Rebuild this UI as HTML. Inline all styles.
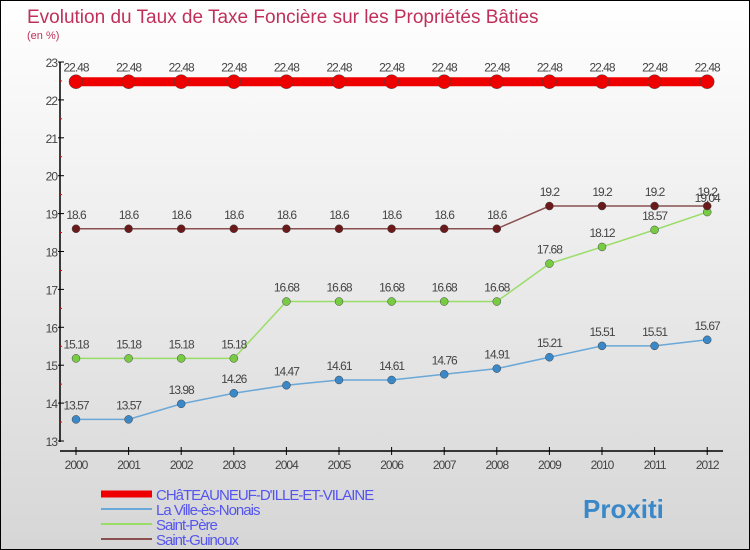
<!DOCTYPE html>
<html><head><meta charset="utf-8"><style>
body{margin:0}
#c{width:748px;height:548px;border:1px solid #000;background:linear-gradient(#fff,#d6d6d6);position:relative;font-family:"Liberation Sans",sans-serif;overflow:hidden}
</style></head><body>
<div id="c">
<svg id="s" width="748" height="548" xmlns="http://www.w3.org/2000/svg">
<text x="26" y="22" font-size="19" fill="#c0305a">Evolution du Taux de Taxe Foncière sur les Propriétés Bâties</text>
<text x="26" y="38" font-size="11" fill="#c0305a">(en %)</text>
<g id="g"></g>
</svg></div>
<script>
const years=[2000,2001,2002,2003,2004,2005,2006,2007,2008,2009,2010,2011,2012];
const chateauneuf=[22.48,22.48,22.48,22.48,22.48,22.48,22.48,22.48,22.48,22.48,22.48,22.48,22.48];
const villeNonais=[13.57,13.57,13.98,14.26,14.47,14.61,14.61,14.76,14.91,15.21,15.51,15.51,15.67];
const saintPere=[15.18,15.18,15.18,15.18,16.68,16.68,16.68,16.68,16.68,17.68,18.12,18.57,19.04];
const saintGuinoux=[18.6,18.6,18.6,18.6,18.6,18.6,18.6,18.6,18.6,19.2,19.2,19.2,19.2];
const yTicks=[13,14,15,16,17,18,19,20,21,22,23];
const NS="http://www.w3.org/2000/svg";
const g=document.getElementById('g');
const X=i=>75+i*52.6;
const Y=v=>440-(v-13)*37.9;
function el(t,a,txt){const e=document.createElementNS(NS,t);for(const k in a)e.setAttribute(k,a[k]);if(txt!==undefined)e.textContent=txt;g.appendChild(e);return e;}
let e=el('line',{x1:59,y1:61,x2:59,y2:441,stroke:'#000','stroke-width':1.5});


e=el('line',{x1:59,y1:450,x2:722,y2:450,stroke:'#000','stroke-width':1.5});


yTicks.forEach(t=>{
 el('line',{x1:57,y1:Y(t),x2:63,y2:Y(t),stroke:'#000'});
 if(t<23) el('line',{x1:58,y1:Y(t+0.5),x2:61,y2:Y(t+0.5),stroke:'#d00'});
 e=el('text',{x:56,y:Y(t)+5,'font-size':12,fill:'#444','text-anchor':'end','letter-spacing':'-1'},t);
 
 
});
years.forEach((y,i)=>{
 el('line',{x1:X(i),y1:446,x2:X(i),y2:454,stroke:'#000'});
 e=el('text',{x:X(i),y:468,'font-size':12,fill:'#444','text-anchor':'middle','letter-spacing':'-1'},y);
 
 
});
const series=[
 {d:villeNonais,c:'#6aa8d8',f:'#3a88c8',w:1.5,r:4,n:'ville-nonais'},
 {d:saintPere,c:'#99dd66',f:'#77cc44',w:1.5,r:4,n:'saint-pere'},
 {d:saintGuinoux,c:'#8a5050',f:'#6a1a1a',w:1.5,r:4,n:'saint-guinoux'},
 {d:chateauneuf,c:'#ee0000',f:'#ee0000',w:9,r:7,n:'chateauneuf'}];
series.forEach(s=>{
 e=el('polyline',{points:s.d.map((v,i)=>X(i)+','+Y(v)).join(' '),fill:'none',stroke:s.c,'stroke-width':s.w});
 
 
 s.d.forEach((v,i)=>{
  e=el('circle',{cx:X(i),cy:Y(v),r:s.r,fill:s.f,stroke:'#444','stroke-width':0.5});
  
  
  e=el('text',{x:X(i),y:Y(v)-10,'font-size':12,fill:'#444','text-anchor':'middle','letter-spacing':'-1'},String(v));
  
  
 });
});
const leg=[['CHâTEAUNEUF-D\'ILLE-ET-VILAINE','#ee0000',7],['La Ville-ès-Nonais','#6aa8d8',2],['Saint-Père','#99dd66',2],['Saint-Guinoux','#8a5050',2]];
leg.forEach((l,i)=>{
 const yy=493+i*15;
 el('line',{x1:100,y1:yy,x2:151,y2:yy,stroke:l[1],'stroke-width':l[2]});
 e=el('text',{x:155,y:yy+6,'font-size':15,fill:'#5555ee','letter-spacing':'-1'},l[0]);
 
 
});
e=el('text',{x:582,y:517,'font-size':26,'font-weight':'bold',fill:'#3a88c8'},'Proxiti');


</script>
</body></html>
